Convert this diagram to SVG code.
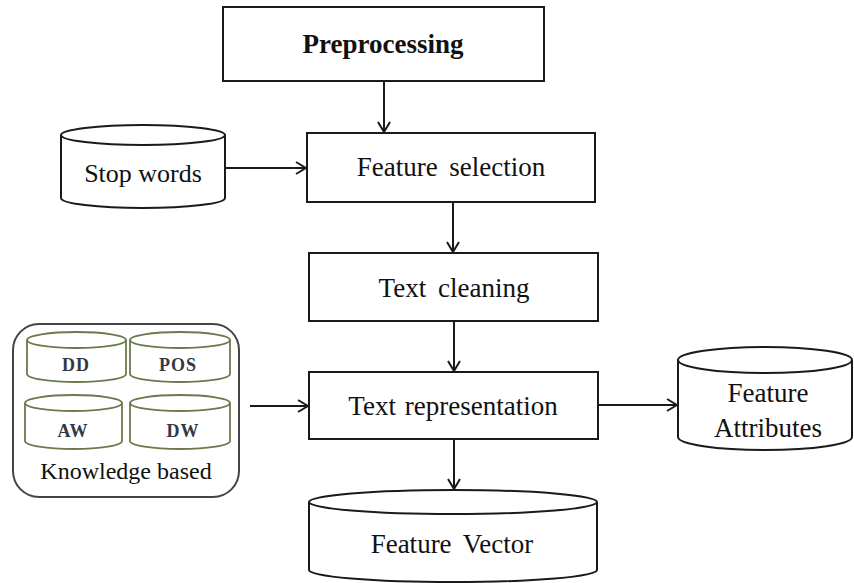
<svg xmlns="http://www.w3.org/2000/svg" width="854" height="583" viewBox="0 0 854 583">
  <style>
    .box { fill: #ffffff; stroke: #1a1a1a; stroke-width: 2; }
    .db { fill: #ffffff; stroke: #1a1a1a; stroke-width: 2; }
    .kdb { fill: #ffffff; stroke: #6b7a4c; stroke-width: 1.8; }
    .kbox { fill: #ffffff; stroke: #444444; stroke-width: 2; }
    .lbl { font-family: "Liberation Serif", "Times New Roman", serif; font-size: 27px; fill: #111111; text-anchor: middle; word-spacing: 5px; }
    .bold { font-weight: bold; }
    .small { font-family: "Liberation Serif", "Times New Roman", serif; font-size: 18px; font-weight: bold; fill: #333a44; text-anchor: middle; letter-spacing: 1px; }
    .edge { stroke: #1a1a1a; stroke-width: 2; fill: none; marker-end: url(#arrow); }
  </style>
  <defs>
    <marker id="arrow" markerWidth="12" markerHeight="14" refX="11" refY="7" orient="auto" markerUnits="userSpaceOnUse">
      <path d="M1,1 L11,7 L1,13" fill="none" stroke="#1a1a1a" stroke-width="2"/>
    </marker>
  </defs>

  <rect width="854" height="583" fill="#ffffff"/>

  <!-- connectors -->
  <g id="connectors">
    <line class="edge" x1="384" y1="81" x2="384" y2="132"/>
    <line class="edge" x1="226" y1="168" x2="306" y2="168"/>
    <line class="edge" x1="453" y1="202" x2="453" y2="252"/>
    <line class="edge" x1="454" y1="321" x2="454" y2="371"/>
    <line class="edge" x1="250" y1="406" x2="308" y2="406"/>
    <line class="edge" x1="598" y1="405" x2="677" y2="405"/>
    <line class="edge" x1="454" y1="439" x2="454" y2="489"/>
  </g>

  <g id="preprocessing">
    <rect class="box" x="223" y="7" width="321" height="74"/>
    <text class="lbl bold" x="383" y="53">Preprocessing</text>
  </g>

  <g id="stop-words">
    <path class="db" d="M61,135 L61,198 A82,10 0 0 0 225,198 L225,135"/>
    <ellipse class="db" cx="143" cy="135" rx="82" ry="10"/>
    <text class="lbl" x="143" y="182" style="font-size:26px;word-spacing:0">Stop words</text>
  </g>

  <g id="feature-selection">
    <rect class="box" x="307" y="133" width="288" height="69"/>
    <text class="lbl" x="451" y="176">Feature selection</text>
  </g>

  <g id="text-cleaning">
    <rect class="box" x="309" y="253" width="289" height="68"/>
    <text class="lbl" x="454" y="297">Text cleaning</text>
  </g>

  <g id="knowledge-based">
    <rect class="kbox" x="13" y="324" width="226" height="173" rx="26" ry="26"/>
    <g id="kb-dd">
      <path class="kdb" d="M27,340 L27,374 A49.5,8 0 0 0 126,374 L126,340"/>
      <ellipse class="kdb" cx="76.5" cy="340" rx="49.5" ry="8"/>
      <text class="small" x="76" y="371">DD</text>
    </g>
    <g id="kb-pos">
      <path class="kdb" d="M130,340 L130,374 A50,8 0 0 0 230,374 L230,340"/>
      <ellipse class="kdb" cx="180" cy="340" rx="50" ry="8"/>
      <text class="small" x="178" y="371">POS</text>
    </g>
    <g id="kb-aw">
      <path class="kdb" d="M25,403 L25,441 A48.5,8 0 0 0 122,441 L122,403"/>
      <ellipse class="kdb" cx="73.5" cy="403" rx="48.5" ry="8"/>
      <text class="small" x="73" y="437">AW</text>
    </g>
    <g id="kb-dw">
      <path class="kdb" d="M130,403 L130,441 A50,8 0 0 0 230,441 L230,403"/>
      <ellipse class="kdb" cx="180" cy="403" rx="50" ry="8"/>
      <text class="small" x="183" y="437">DW</text>
    </g>
    <text class="lbl" x="126" y="479" style="font-size:24px;word-spacing:0">Knowledge based</text>
  </g>

  <g id="text-representation">
    <rect class="box" x="309" y="372" width="289" height="67"/>
    <text class="lbl" x="453" y="415" style="word-spacing:2px">Text representation</text>
  </g>

  <g id="feature-attributes">
    <path class="db" d="M678,360 L678,437 A87,13 0 0 0 852,437 L852,360"/>
    <ellipse class="db" cx="765" cy="360" rx="87" ry="13"/>
    <text class="lbl" x="768" y="402">Feature</text>
    <text class="lbl" x="768" y="437">Attributes</text>
  </g>

  <g id="feature-vector">
    <path class="db" d="M309,502 L309,570 A144,12 0 0 0 597,570 L597,502"/>
    <ellipse class="db" cx="453" cy="502" rx="144" ry="12"/>
    <text class="lbl" x="452" y="553">Feature Vector</text>
  </g>
</svg>
